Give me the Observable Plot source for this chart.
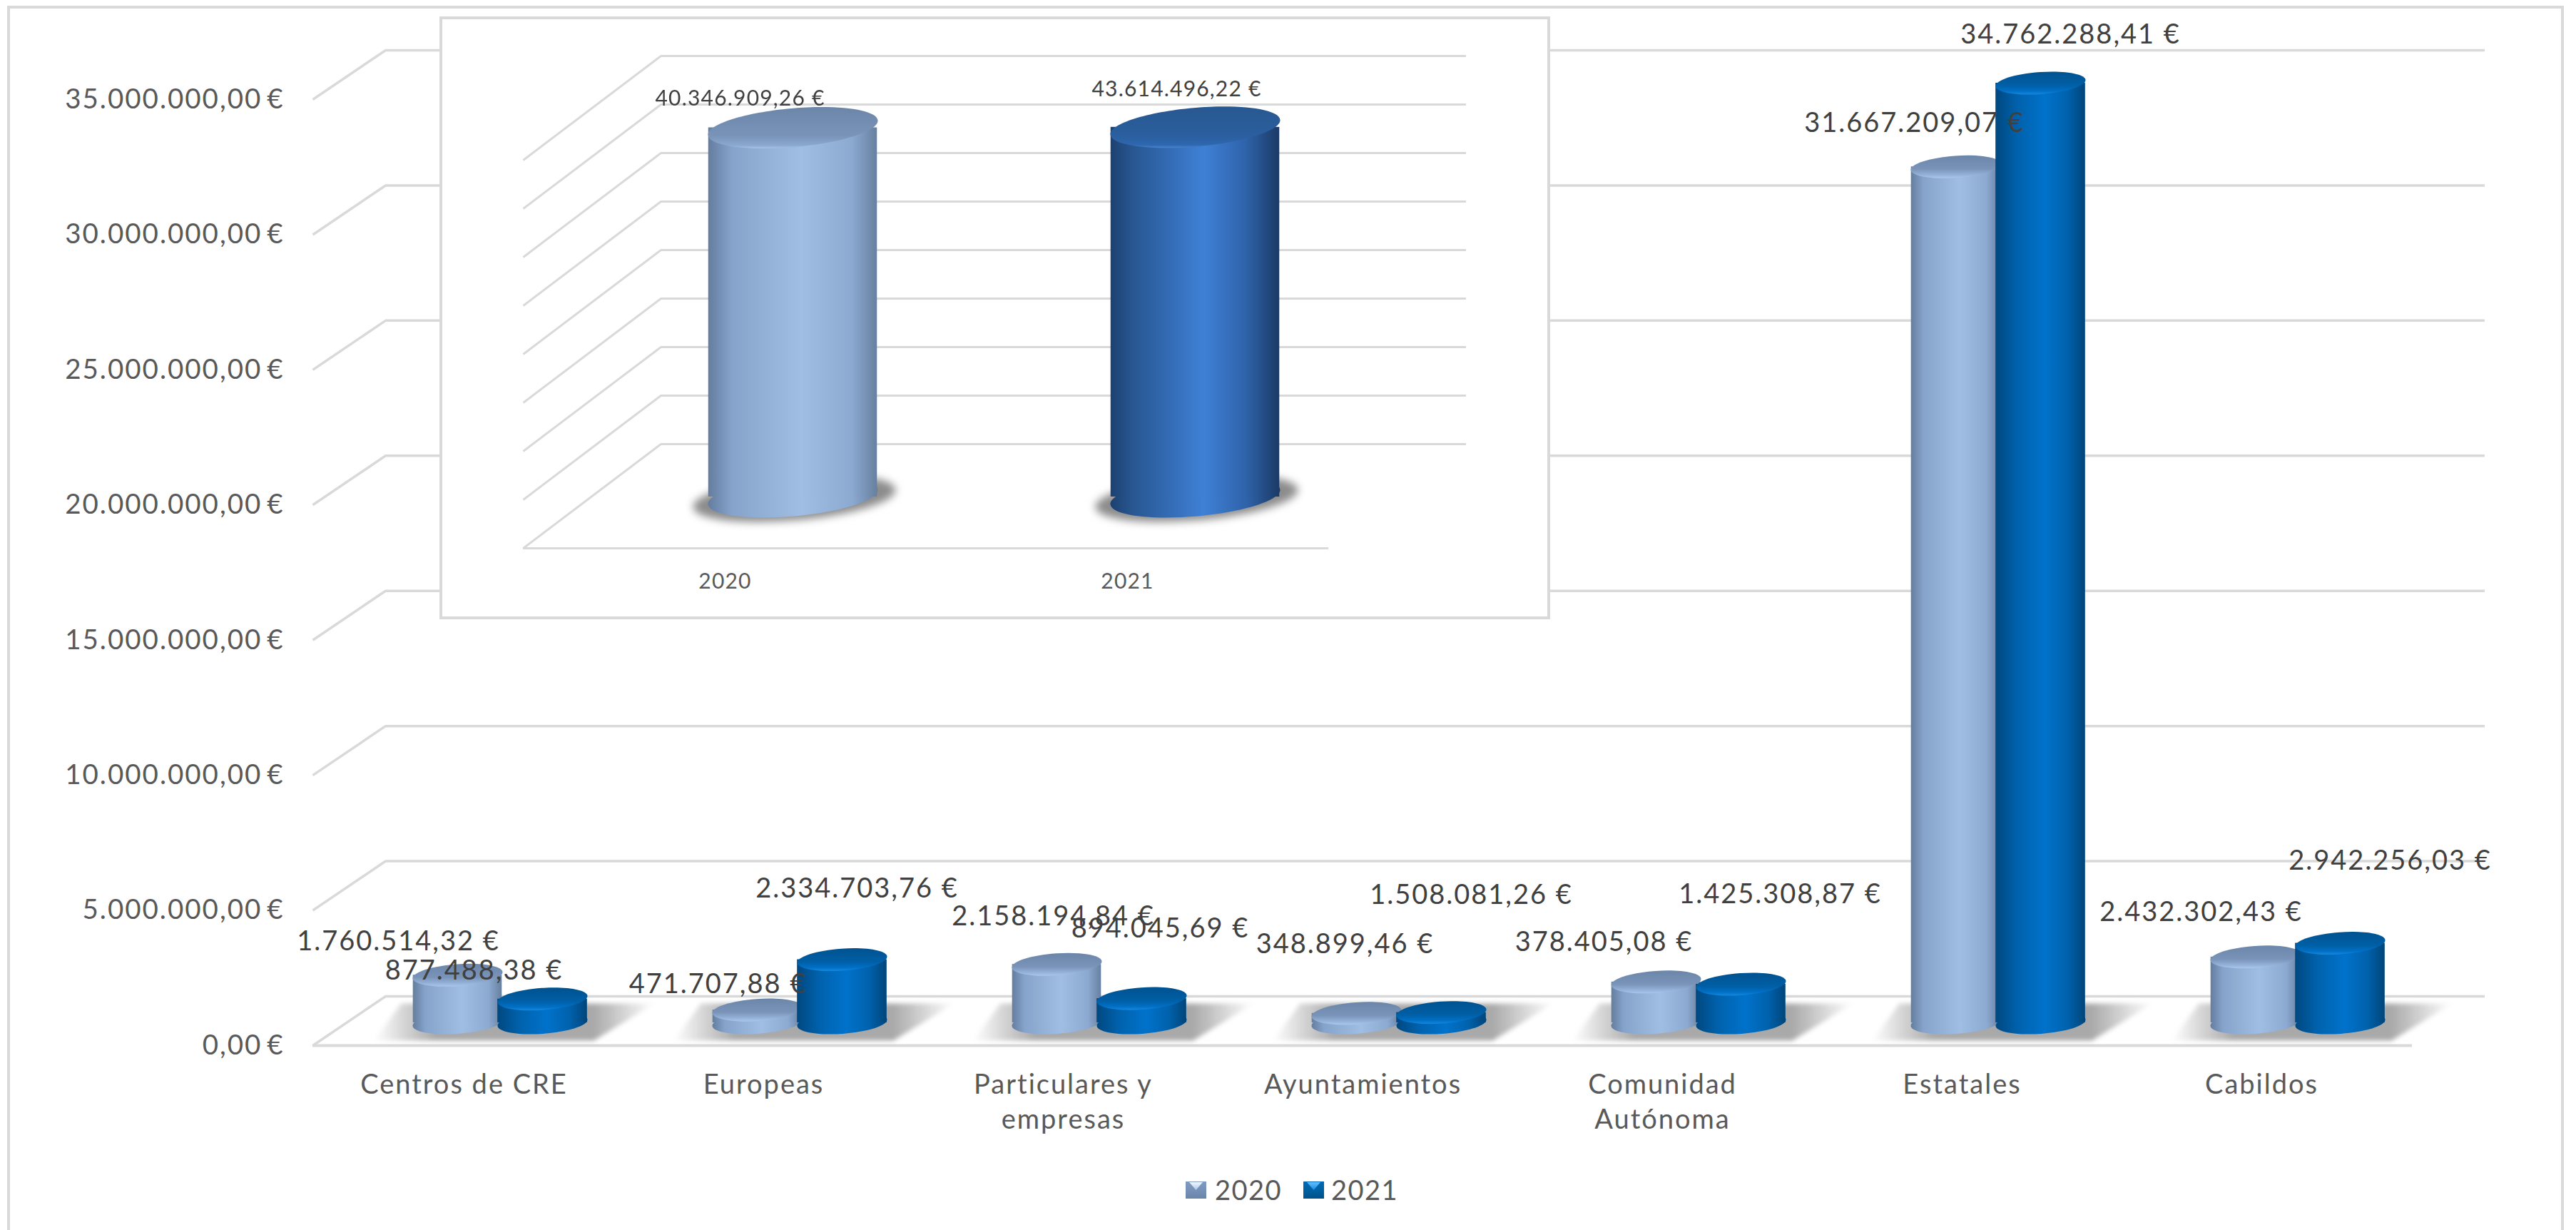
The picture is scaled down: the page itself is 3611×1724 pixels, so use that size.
<!DOCTYPE html>
<html lang="es">
<head>
<meta charset="utf-8">
<title>Ingresos por origen 2020 y 2021</title>
<script src="https://cdn.jsdelivr.net/npm/d3@7"></script>
<script src="https://cdn.jsdelivr.net/npm/@observablehq/plot@0.6"></script>
<style>
  html, body { margin: 0; padding: 0; background: #fff; width: 3611px; height: 1724px; overflow: hidden; }
  #stage { position: relative; width: 3611px; height: 1724px; overflow: hidden; font-family: Lato, sans-serif; }
  #stage svg { display: block; }
  #main { position: absolute; left: 0; top: 0; }
  #inset { position: absolute; left: 616px; top: 23px; }
  #frame { position: absolute; left: 10px; top: 8px; width: 3576px; height: 1800px; border: 4px solid #d9d9d9; pointer-events: none; }
  #legend { position: absolute; left: 0; top: 1644px; height: 46px; width: 100%; color: #595959; font-size: 38px; letter-spacing: 1.5px; }
  #legend .sw { position: absolute; top: 12px; width: 29px; height: 24px; overflow: hidden; }
  #legend .sw i { position: absolute; left: 5px; top: 1px; width: 19px; height: 11px; clip-path: polygon(0 0, 100% 0, 50% 100%); }
  #legend .tx { position: absolute; top: 0; line-height: 46px; }
</style>
</head>
<body>
<div id="stage">
  <div id="frame"></div>
  <div id="main"></div>
  <div id="inset"></div>
  <div id="legend"></div>
</div>
<script>
// ---------- Data ----------
const categories = ["Centros de CRE", "Europeas", "Particulares y\nempresas", "Ayuntamientos", "Comunidad\nAutónoma", "Estatales", "Cabildos"];
const values2020 = [1760514.32, 471707.88, 2158194.84, 348899.46, 1508081.26, 31667209.07, 2432302.43];
const values2021 = [877488.38, 2334703.76, 894045.69, 378405.08, 1425308.87, 34762288.41, 2942256.03];
// Labels exactly as printed: Ayuntamientos and Comunidad Autónoma carry crossed labels in the source.
const labels2020 = ["1.760.514,32 €", "471.707,88 €", "2.158.194,84 €", "348.899,46 €", "378.405,08 €", "31.667.209,07 €", "2.432.302,43 €"];
const labels2021 = ["877.488,38 €", "2.334.703,76 €", "894.045,69 €", "1.508.081,26 €", "1.425.308,87 €", "34.762.288,41 €", "2.942.256,03 €"];
const yTicks = [0, 5e6, 10e6, 15e6, 20e6, 25e6, 30e6, 35e6];

const totalYears = ["2020", "2021"];
const totalLabels = ["40.346.909,26 €", "43.614.496,22 €"];
// Heights as drawn in the source inset, read against its unlabelled 5M-step grid
// (the two columns are almost equal there although their labels differ).
const totalDrawn = [38050000, 38100000];
const totalTicks = [0, 5e6, 10e6, 15e6, 20e6, 25e6, 30e6, 35e6, 40e6];

// ---------- Layout (pixel nudges, separate from the data) ----------
const nudges2020 = [[-92,-79],[-64,-68],[-14,-99],[-25,-128],[-82,-88],[-67,-93],[-85,-95]];
const nudges2021 = [[14,-71],[131,-131],[136,-130],[152,-196],[165,-158],[152,-100],[180,-147]];
const totalNudges = [[21,-113],[69,-125]];
const GRID = "#d9d9d9", TICKTEXT = "#595959", LABELTEXT = "#404040";

// ---------- Helpers ----------
const esNumber = d3.formatLocale({decimal: ",", thousands: ".", grouping: [3], currency: ["", ""]}).format(",.2f");
const euro = d => esNumber(d) + "\u2009€";

// a tilted ellipse for the cylinder caps, as a Plot symbol
function ellipseSymbol(hw, hh, deg) {
  const p = deg * Math.PI / 180, c = Math.cos(p), s = Math.sin(p);
  const den = c*c*c*c - s*s*s*s;
  const a = Math.sqrt((hw*hw*c*c - hh*hh*s*s) / den), b = Math.sqrt((hh*hh*c*c - hw*hw*s*s) / den);
  const k = 0.5523;
  const T = (x, y) => [x*a*c + y*b*s, -x*a*s + y*b*c];
  return {draw(ctx) {
    ctx.moveTo(...T(1, 0));
    ctx.bezierCurveTo(...T(1, k), ...T(k, 1), ...T(0, 1));
    ctx.bezierCurveTo(...T(-k, 1), ...T(-1, k), ...T(-1, 0));
    ctx.bezierCurveTo(...T(-1, -k), ...T(-k, -1), ...T(0, -1));
    ctx.bezierCurveTo(...T(k, -1), ...T(1, -k), ...T(1, 0));
    ctx.closePath();
  }};
}
const polySymbol = pts => ({draw(ctx) {
  pts.forEach((q, i) => i ? ctx.lineTo(...q) : ctx.moveTo(...q));
  ctx.closePath();
}});
const depthLine = (dx, dy) => ({draw(ctx) { ctx.moveTo(0, 0); ctx.lineTo(dx, dy); }});

// gradient definitions, passed to Plot as a function mark
function gradients(defsList) {
  return () => {
    const defs = d3.create("svg:defs");
    for (const g of defsList) {
      const lg = defs.append("linearGradient").attr("id", g.id)
        .attr("x1", 0).attr("y1", 0).attr("x2", g.vertical ? 0 : 1).attr("y2", g.vertical ? 1 : 0);
      for (const [o, col, op] of g.stops) {
        const st = lg.append("stop").attr("offset", o).attr("stop-color", col);
        if (op !== undefined) st.attr("stop-opacity", op);
      }
    }
    return defs.node();
  };
}

// ---------- Main chart ----------
const rows2020 = categories.map((category, i) => ({category, value: values2020[i], label: labels2020[i], nudge: nudges2020[i]}));
const rows2021 = categories.map((category, i) => ({category, value: values2021[i], label: labels2021[i], nudge: nudges2021[i]}));

function cylinders(rows, o) {
  const common = {x: o.x, dx: o.capDx, dy: o.dy};
  const base = {...common, y: () => 0, symbol: o.cap, fill: `url(#${o.body})`};
  return [
    Plot.dot(rows, base),
    Plot.barY(rows, {x: o.x, y: o.y, insetLeft: o.insetLeft, insetRight: o.insetRight, dx: o.barDx, dy: o.dy, fill: `url(#${o.body})`}),
    Plot.dot(rows, {...common, y: o.y, symbol: o.cap, fill: `url(#${o.top})`})
  ];
}

const mainCap = ellipseSymbol(63, 16, 4);
const mainPlot = Plot.plot({
  width: 3611, height: 1724,
  marginLeft: 438, marginRight: 230, marginTop: 139, marginBottom: 259,
  x: {type: "band", domain: categories, padding: 0},
  y: {domain: [0, 35e6]},
  style: {fontFamily: "Lato, sans-serif", background: "transparent", letterSpacing: "2px"},
  marks: [
    gradients([
      {id: "b20", stops: [[0,"#647d9f"],[0.14,"#86a3cb"],[0.55,"#a0bde3"],[0.85,"#8ca9d1"],[1,"#67809f"]]},
      {id: "b21", stops: [[0,"#00487f"],[0.25,"#0062ad"],[0.55,"#0072cb"],[0.8,"#0062ad"],[1,"#00457a"]]},
      {id: "t20", vertical: true, stops: [[0,"#6c86aa"],[0.6,"#7a94b9"],[0.85,"#94b1d8"],[1,"#aac6ec"]]},
      {id: "t21", vertical: true, stops: [[0,"#00528f"],[0.6,"#005fa6"],[0.85,"#0070c6"],[1,"#1488de"]]},
      {id: "sh", stops: [[0,"#a9a9a9",0],[0.22,"#a9a9a9",1],[0.78,"#a9a9a9",1],[1,"#a9a9a9",0]]}
    ]),
    // front ticks to back wall
    Plot.dot(yTicks, {y: d => d, frameAnchor: "left", symbol: depthLine(102, -69), fill: "none", stroke: GRID, strokeWidth: 3.5}),
    Plot.ruleY(yTicks, {y: d => d, dx: 102, dy: -69, stroke: GRID, strokeWidth: 3.5}),
    Plot.ruleY([0], {stroke: GRID, strokeWidth: 4}),
    // floor shadows
    Plot.dot(categories, {x: d => d, y: () => 0, dx: 52, dy: -33,
      symbol: polySymbol([[-178, 26], [130, 26], [215, -26], [-140, -26]]), fill: "url(#sh)", imageFilter: "blur(3px)"}),
    cylinders(rows2020, {x: "category", y: "value", cap: mainCap, body: "b20", top: "t20", capDx: -9, barDx: 51, dy: -32, insetLeft: 87.7, insetRight: 207.7}),
    cylinders(rows2021, {x: "category", y: "value", cap: mainCap, body: "b21", top: "t21", capDx: 110, barDx: 51, dy: -32, insetLeft: 206.2, insetRight: 88.2}),
    Plot.axisY({ticks: yTicks, tickFormat: euro, tickSize: 0, tickPadding: 40, fontSize: 38.5, fill: TICKTEXT, label: null}),
    Plot.axisX({tickSize: 0, tickPadding: 33, fontSize: 38, lineHeight: 1.29, fill: TICKTEXT, label: null}),
    [...rows2020, ...rows2021].map(r => Plot.text([r], {
      x: "category", y: "value", text: "label", dx: r.nudge[0], dy: r.nudge[1],
      fontSize: 38, fill: LABELTEXT
    }))
  ]
});
document.getElementById("main").append(mainPlot);

// ---------- Inset chart: totals ----------
const totals = totalYears.map((year, i) => ({year, value: totalDrawn[i], label: totalLabels[i], nudge: totalNudges[i]}));
const insetCap = ellipseSymbol(119, 29, 5);
const insetPlot = Plot.plot({
  width: 1557, height: 845,
  marginLeft: 117, marginRight: 311, marginTop: 201, marginBottom: 100,
  x: {type: "band", domain: totalYears, padding: 0},
  y: {domain: [0, 40e6], axis: null},
  style: {fontFamily: "Lato, sans-serif", background: "#fff", outline: "4px solid #d9d9d9", outlineOffset: "-4px", letterSpacing: "1.2px"},
  marks: [
    gradients([
      {id: "ib20", stops: [[0,"#647d9f"],[0.14,"#86a3cb"],[0.55,"#a0bde3"],[0.85,"#8ca9d1"],[1,"#67809f"]]},
      {id: "it20", vertical: true, stops: [[0,"#6c86aa"],[0.7,"#7a94b9"],[0.93,"#8ba8cf"],[1,"#a8c4ea"]]},
      {id: "ib21", stops: [[0,"#1d4170"],[0.12,"#27558f"],[0.55,"#3f80d6"],[0.8,"#2f63aa"],[1,"#1b3a66"]]},
      {id: "it21", vertical: true, stops: [[0,"#285890"],[0.7,"#2a5e9e"],[0.93,"#2f68b0"],[1,"#4a85d2"]]}
    ]),
    Plot.dot(totalTicks, {y: d => d, frameAnchor: "left", symbol: depthLine(193, -146), fill: "none", stroke: GRID, strokeWidth: 3}),
    Plot.ruleY(totalTicks, {y: d => d, dx: 193, dy: -146, stroke: GRID, strokeWidth: 3}),
    Plot.ruleY([0], {stroke: GRID, strokeWidth: 3}),
    Plot.dot(totals, {x: "year", y: () => 0, dx: 97, dy: -70, symbol: ellipseSymbol(142, 33, 5), fill: "#8c8c8c", imageFilter: "blur(6px)"}),
    cylinders(totals.slice(0, 1), {x: "year", y: "value", cap: insetCap, body: "ib20", top: "it20", capDx: 95, barDx: 95, dy: -72, insetLeft: 163.75, insetRight: 163.75}),
    cylinders(totals.slice(1), {x: "year", y: "value", cap: insetCap, body: "ib21", top: "it21", capDx: 95, barDx: 95, dy: -72, insetLeft: 163.75, insetRight: 163.75}),
    Plot.axisX({tickSize: 0, tickPadding: 35, fontSize: 30, fill: TICKTEXT, label: null}),
    totals.map(r => Plot.text([r], {x: "year", y: "value", text: "label", dx: r.nudge[0], dy: r.nudge[1], fontSize: 30, fill: LABELTEXT}))
  ]
});
document.getElementById("inset").append(insetPlot);

// ---------- Legend ----------
const legendYears = ["2020", "2021"];
const legendLook = [
  {sx: 1662, tx: 1703, bg: "linear-gradient(#7f9bc2,#7590b6 55%,#6b85a9)", tri: "linear-gradient(#f2f8ff,#a9c6ee)"},
  {sx: 1827, tx: 1866, bg: "linear-gradient(#0069b8,#00609f 55%,#00508c)", tri: "linear-gradient(#5fc0ff,#1a8ae0)"}
];
const legend = d3.select("#legend");
legendYears.forEach((y, i) => {
  const l = legendLook[i];
  legend.append("div").attr("class", "sw").style("left", l.sx + "px").style("background", l.bg)
    .append("i").style("background", l.tri);
  legend.append("div").attr("class", "tx").style("left", l.tx + "px").text(y);
});
</script>
</body>
</html>
